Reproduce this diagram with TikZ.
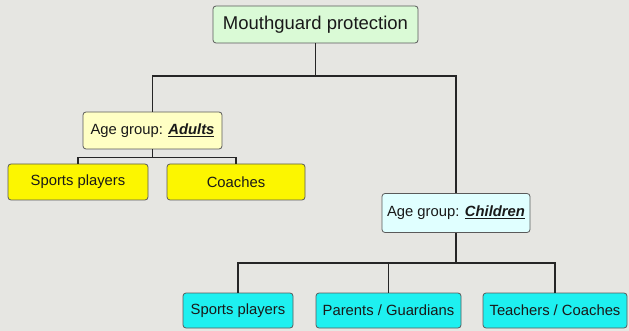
\documentclass[tikz,border=0pt]{standalone}
\usepackage{fontspec}
\setmainfont{Liberation Sans}
\definecolor{bggray}{RGB}{230,230,226}
\definecolor{rootgreen}{RGB}{218,250,214}
\definecolor{paleyellow}{RGB}{255,255,196}
\definecolor{leafyellow}{RGB}{252,246,0}
\definecolor{palecyan}{RGB}{224,255,255}
\definecolor{leafcyan}{RGB}{30,240,240}
\definecolor{boxline}{RGB}{90,90,90}
\begin{document}
\begin{tikzpicture}[x=1pt, y=-1pt,
		box/.style={draw=boxline, line width=0.8pt, rounded corners=3pt, inner sep=0pt,
			text=black!90, font=\fontsize{14.8}{16}\selectfont},
		link/.style={line width=1.8pt, black!85}]
			\path[use as bounding box, fill=bggray] (0,0) rectangle (629,331);
			\node[box, fill=rootgreen, minimum width=205pt, minimum height=37pt, font=\fontsize{18.5}{20}\selectfont] (root) at (315.5,24.5) {Mouthguard protection};
			\node[box, fill=paleyellow, minimum width=139pt, minimum height=37pt] (adults) at (152.5,130.5) {Age group: \textbf{\textit{\underline{Adults}}}};
			\node[box, fill=leafyellow, minimum width=140pt, minimum height=36pt] (adultplayers) at (78,182) {Sports players};
			\node[box, fill=leafyellow, minimum width=138pt, minimum height=36pt] (adultcoaches) at (236,182) {Coaches};
			\node[box, fill=palecyan, minimum width=148pt, minimum height=39pt] (children) at (456,213) {Age group: \textbf{\textit{\underline{Children}}}};
			\node[box, fill=leafcyan, minimum width=110pt, minimum height=35pt] (kidplayers) at (238,310.5) {Sports players};
			\node[box, fill=leafcyan, minimum width=145pt, minimum height=35pt] (guardians) at (388.5,310.5) {Parents / Guardians};
			\node[box, fill=leafcyan, minimum width=144pt, minimum height=35pt] (teachers) at (555,310.5) {Teachers / Coaches};
			\coordinate (rootfork) at (315.5,76);
			\coordinate (adultfork) at (152.5,157.5);
			\coordinate (kidfork) at (456,263);
			\draw [link] (root.south) -- (rootfork) -| (adults.north);
			\draw [link] (rootfork) -| (children.north);
			\draw [link] (adults.south) -- (adultfork) -| (adultplayers.north);
			\draw [link] (adultfork) -| (adultcoaches.north);
			\draw [link] (children.south) -- (kidfork) -| (kidplayers.north);
			\draw [link] (kidfork) -| (teachers.north);
			\draw [link] (kidfork) -| (guardians.north);
		\end{tikzpicture}
\end{document}
